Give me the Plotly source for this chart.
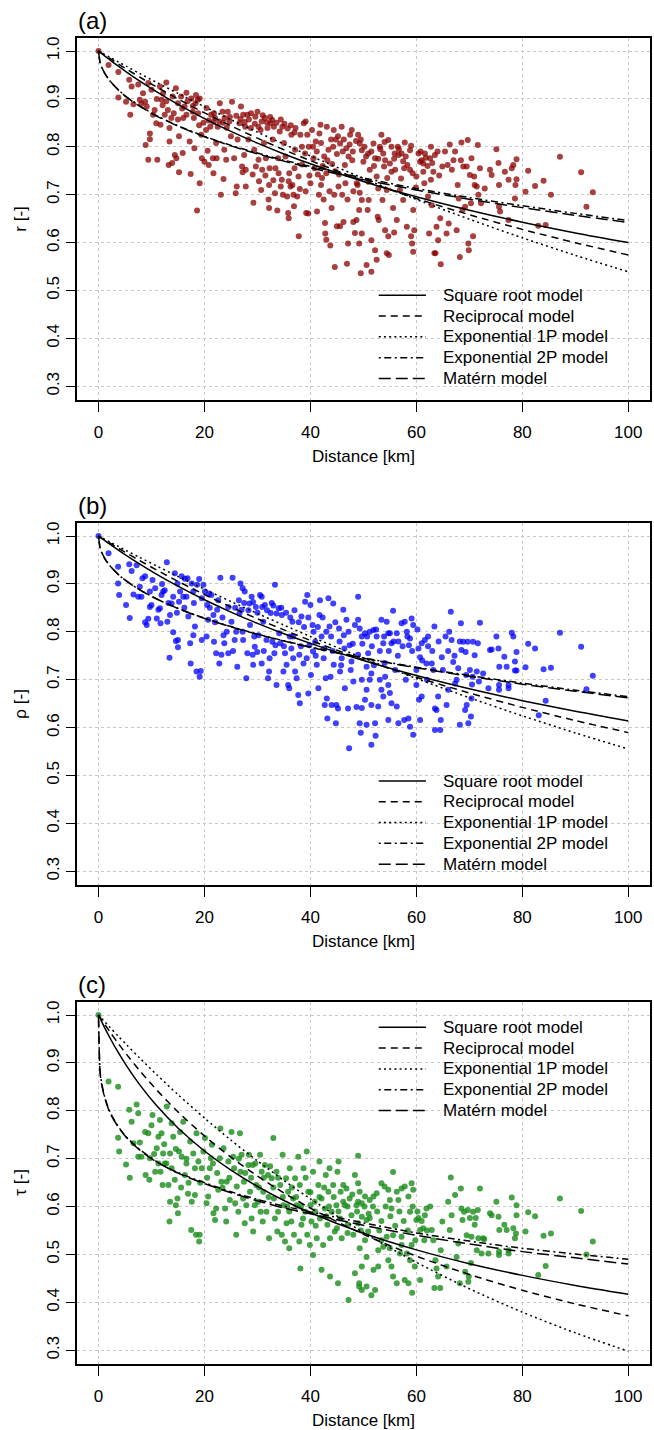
import plotly.graph_objects as go

# ---------------- observed correlation pairs (distance km, coefficient) ----------------
obs_a = [(0,1.0),(1.9,0.971),(3.75,0.956),(3.75,0.903),(5.2,0.894),(5.8,0.94),(6.0,0.867),(6.25,0.926),(6.6,0.889),
(7.5,0.93),(7.8,0.898),(8.1,0.89),(8.4,0.912),(8.8,0.894),(9.1,0.884),(9.4,0.933),(9.7,0.828),(9.7,0.816),(8.9,0.804),
(9.4,0.773),(10,0.919),(10.3,0.867),(10.6,0.877),(10.9,0.849),(11.1,0.773),(11.6,0.926),(11.7,0.846),(11.9,0.898),
(12.1,0.887),(12.2,0.912),(12.5,0.867),(12.8,0.934),(13.1,0.877),(13.4,0.839),(13.4,0.811),(13.25,0.762),(13.75,0.86),
(13.9,0.766),(14.4,0.783),(14.6,0.922),(14.7,0.776),(15,0.891),(15,0.857),(15.2,0.822),(15.2,0.747),(15.6,0.905),
(15.9,0.787),(16.25,0.884),(16.6,0.913),(16.6,0.867),(17.2,0.811),(17.4,0.743),(17.5,0.901),(17.8,0.873),(18.1,0.797),
(18.3,0.891),(18.4,0.908),(18.6,0.667),(18.75,0.898),(19.1,0.724),(19.1,0.901),(19.4,0.825),(19.5,0.776),(20,0.769),
(20.3,0.835),(20.4,0.881),(20.6,0.792),(20.8,0.762),(21.1,0.842),(21.25,0.867),(21.6,0.776),(21.7,0.745),(22.2,0.808),
(22.3,0.776),(22.5,0.842),(22.8,0.853),(22.9,0.891),(23.1,0.7),(23.4,0.873),(23.6,0.733),(23.75,0.794),(24.1,0.773),
(24.4,0.873),(24.7,0.853),(25,0.822),(25.2,0.894),(25.6,0.776),(25.9,0.703),(26.1,0.717),(26.25,0.815),(26.6,0.849),
(26.9,0.884),(27.1,0.759),(27.2,0.747),(27.3,0.867),(27.5,0.783),(27.7,0.842),(27.8,0.717),(27.8,0.752),(28.1,0.867),
(28.3,0.815),(28.4,0.857),(28.75,0.839),(29.1,0.742),(29.25,0.683),(29.4,0.794),(29.6,0.863),(29.7,0.759),(30,0.873),
(30.2,0.773),(30.3,0.728),(30.6,0.835),(30.8,0.853),(30.9,0.752),(31.25,0.808),(31.4,0.86),(31.6,0.776),(31.9,0.839),
(32.1,0.69),(32.2,0.72),(32.2,0.672),(32.3,0.755),(32.5,0.849),(32.8,0.856),(32.9,0.815),(33.3,0.703),(33.4,0.755),
(33.75,0.667),(33.9,0.776),(34.2,0.832),(34.4,0.717),(34.6,0.731),(34.7,0.842),(35,0.808),(35.3,0.78),(35.6,0.696),
(35.8,0.662),(35.9,0.651),(35.9,0.728),(36.25,0.717),(36.4,0.825),(36.6,0.72),(36.9,0.676),(37.1,0.794),(37.2,0.839),
(37.5,0.696),(37.75,0.738),(37.8,0.613),(38.1,0.825),(38.4,0.763),(38.75,0.849),(39.1,0.853),(39.1,0.707),(39.2,0.662),
(39.4,0.825),(39.6,0.661),(39.7,0.8),(40,0.724),(40.3,0.835),(40.6,0.776),(41,0.811),(41.25,0.665),(41.4,0.742),
(41.6,0.7),(41.7,0.828),(41.9,0.846),(42.2,0.735),(42.5,0.69),(42.75,0.641),(42.8,0.619),(43,0.606),(43.1,0.842),
(43.4,0.794),(43.6,0.707),(43.75,0.594),(44,0.672),(44.4,0.835),(44.6,0.549),(44.7,0.749),(44.8,0.815),(45,0.634),
(45.2,0.822),(45.3,0.717),(45.4,0.742),(45.6,0.634),(45.9,0.842),(46.1,0.79),(46.25,0.643),(46.6,0.724),(46.9,0.556),
(47.1,0.598),(47.2,0.78),(47.5,0.825),(47.8,0.835),(48.1,0.643),(48.1,0.707),(48.4,0.62),(48.75,0.724),
(49.0,0.825),(49.3,0.807),(49.7,0.793),(50,0.769),(48.9,0.72),(49.3,0.704),(49.7,0.689),(49.2,0.668),(48.7,0.647),
(49.7,0.619),(49.2,0.598),(50.6,0.553),(49.5,0.536),(51.5,0.539),(50.9,0.786),(51.2,0.752),(50.9,0.727),(51,0.689),
(50.8,0.668),(51.5,0.605),(52.2,0.584),(51.9,0.807),(52.2,0.776),(52.5,0.738),(52.8,0.713),(52.7,0.654),(52.9,0.647),
(52.5,0.564),(53.4,0.825),(53.1,0.8),(53.75,0.786),(53.9,0.759),(54.1,0.772),(54.4,0.71),(53.6,0.689),(54.1,0.626),
(54.7,0.613),(54.4,0.578),(54.8,0.574),(54.7,0.814),(55.3,0.8),(55.3,0.748),(55.9,0.786),(55.6,0.672),(55.8,0.621),
(56.3,0.647),(56.5,0.8),(56.6,0.783),(57.1,0.734),(56.9,0.71),(57.2,0.786),(57.5,0.689),(57.8,0.809),(58.2,0.633),
(58.3,0.762),(58.8,0.752),(58.8,0.793),(59,0.613),(59.2,0.598),(59.4,0.581),(59.4,0.668),(59.6,0.626),(59.9,0.715),
(60,0.738),(60.4,0.786),(60.7,0.769),(61,0.772),(61.3,0.765),(61.3,0.748),(61.5,0.724),(61.6,0.786),(62.2,0.696),
(62.4,0.619),(62.6,0.776),(62.75,0.8),(62.75,0.731),(62.9,0.678),(63.2,0.748),(63.4,0.578),(63.6,0.578),(63.5,0.783),
(63.8,0.633),(64.1,0.605),(64.5,0.651),(64.6,0.555),(64.9,0.759),(65.4,0.79),(65.7,0.619),(65.9,0.762),(66.1,0.64),
(66.3,0.805),(66.7,0.752),(67,0.772),(67.3,0.79),(67.6,0.626),(67.8,0.72),(68,0.692),(68.2,0.57),(68.4,0.772),
(68.5,0.809),(68.7,0.668),(68.85,0.759),(69.2,0.675),(69.5,0.759),(69.7,0.814),(69.8,0.598),(69.9,0.584),(70.1,0.741),
(70.3,0.682),(70.4,0.776),(70.7,0.613),(70.9,0.738),(71,0.72),(71.4,0.717),(71.6,0.804),(71.7,0.7),(72,0.755),
(72.2,0.682),(72.9,0.713),(73.9,0.752),(74.2,0.741),(75.1,0.795),(75.5,0.766),(75.6,0.675),(75.8,0.665),(75.6,0.72),
(76.7,0.748),(77.4,0.731),(77.4,0.647),(78,0.755),(78.3,0.762),(78.6,0.692),(78.7,0.72),(78.9,0.774),(78.9,0.732),
(80.6,0.706),(81.1,0.75),(82.4,0.718),(83,0.635),(84,0.729),(84.4,0.637),(85.4,0.7),(87.1,0.779),(91.1,0.747),
(92.1,0.675),(93.3,0.705),
(26,0.865),(26.8,0.858),(27.6,0.852),(28.8,0.87),(29.5,0.848),(30.2,0.842),(31,0.866),(31.8,0.851),(32.4,0.862),
(33.1,0.842),(33.6,0.85),(34.4,0.857),(35.1,0.848),(35.7,0.838),(36.3,0.845),(37,0.83),(24.8,0.862),(23.5,0.85),
(22,0.86),(21.7,0.852),(38.4,0.8),(39,0.786),(40.5,0.8),(41.2,0.79),(42,0.808),(42.6,0.78),(43.2,0.772),(43.9,0.815),
(44.3,0.8),(45,0.785),(45.6,0.807),(46.3,0.815),(46.8,0.797),(47.4,0.805),(48,0.79),(48.6,0.812),(42.3,0.76),
(44.1,0.764),(46.5,0.762),(47.9,0.772),(49.5,0.815),(50.2,0.8),(50.5,0.78),(51.5,0.79),(52,0.76),(52.8,0.775),
(53.2,0.795),(54,0.81),(55,0.765),(55.8,0.775),(56.7,0.795),(57.5,0.77),(58,0.78),(59,0.802),(60.8,0.79),(61.8,0.777),
(62.1,0.76),(63,0.766),(64,0.79),(64.3,0.74),(59.3,0.745),(57.7,0.755),(56,0.752),(54.5,0.735),(30.7,0.71),(31.5,0.74),
(33,0.73),(34,0.745),(36,0.745),(37,0.755),(38,0.712),(39.8,0.74),(40.8,0.755),(42,0.72),(43,0.745),(44.5,0.7),
(46,0.7),(47,0.69),(34.8,0.7),(36.8,0.7),(11,0.9),(12.8,0.895),(14,0.905),(15.8,0.88),(16.8,0.895),(17.8,0.885),
(18.8,0.87),(19.8,0.85),(20.8,0.855),(21.8,0.87),(23.8,0.86),(24.2,0.84),(16,0.86),(14.2,0.87),(18,0.86),(19,0.845)]

obs_b = [(0,1.0),(1.9,0.964),(3.7,0.936),(3.7,0.901),(3.9,0.877),(5.2,0.856),(5.9,0.829),(5.8,0.941),(6.25,0.927),
(6.6,0.878),(7.2,0.939),(7.5,0.873),(7.8,0.894),(8.1,0.873),(8.3,0.912),(8.8,0.916),(8.8,0.82),(9.1,0.814),(9.4,0.827),
(9.7,0.852),(9.7,0.884),(10,0.856),(10.2,0.908),(10.7,0.891),(11,0.828),(11.3,0.846),(11.6,0.849),(11.7,0.818),
(11.9,0.877),(12.2,0.884),(12.5,0.887),(12.9,0.945),(13,0.821),(13.4,0.746),(13.5,0.835),(13.8,0.859),(14.1,0.873),
(14.1,0.799),(14.4,0.922),(14.6,0.781),(14.9,0.901),(15,0.783),(15.2,0.863),(15,0.768),(15.4,0.884),(15.7,0.916),
(16,0.873),(16.3,0.911),(16.6,0.873),(16.8,0.912),(16.95,0.832),(17.3,0.776),(17.4,0.734),(17.6,0.901),(17.9,0.793),
(17.9,0.884),(18.2,0.811),(18.5,0.717),(18.6,0.898),(19,0.91),(19.1,0.706),(19.3,0.718),(19.5,0.783),(19.8,0.898),
(20.1,0.884),(20.4,0.79),(20.5,0.856),(20.7,0.825),(20.9,0.88),(21.3,0.877),(21.7,0.835),(21.8,0.779),(22.2,0.755),
(22.4,0.846),(22.6,0.866),(22.8,0.734),(23,0.913),(23.2,0.752),(23.6,0.793),(23.75,0.776),(24.2,0.8),(24.5,0.852),
(24.5,0.755),(25.1,0.821),(25.3,0.913),(25.7,0.783),(26,0.8),(26.2,0.727),(26.5,0.866),(26.8,0.901),(27,0.846),
(27.2,0.891),(27.3,0.783),(27.6,0.884),(27.9,0.703),(28.1,0.755),(28.5,0.859),(28.6,0.814),(28.9,0.873),(29.1,0.752),
(29.2,0.731),(29.5,0.769),(29.7,0.852),(29.96,0.758),(30.2,0.793),(30.5,0.877),(30.8,0.873),(30.8,0.734),(31.1,0.821),
(31.4,0.856),(31.7,0.783),(32,0.703),(32.2,0.717),(32.3,0.745),(32.5,0.839),(32.8,0.779),(33,0.855),(33.3,0.898),
(33.4,0.772),(33.6,0.689),(34,0.849),(34.1,0.797),(34.3,0.776),(34.6,0.835),(34.9,0.717),(35.2,0.755),(35.5,0.731),
(35.8,0.689),(36,0.682),(36.1,0.79),(36.4,0.765),(36.6,0.821),(36.75,0.745),(37.1,0.717),(37.4,0.703),(37.7,0.668),
(37.9,0.752),(38,0.651),(38.3,0.832),(38.7,0.734),(39,0.863),(39.3,0.745),(39.4,0.877),(39.6,0.671),(39.8,0.772),
(40,0.856),(40.1,0.71),(40.4,0.814),(40.5,0.759),(40.9,0.779),(41.2,0.731),(41.5,0.682),(41.7,0.835),(41.8,0.866),
(42.1,0.79),(42.5,0.745),(42.7,0.647),(42.9,0.703),(43.1,0.661),(43.2,0.619),(43.4,0.87),(43.6,0.811),(43.8,0.706),
(44,0.647),(44.3,0.859),(44.4,0.731),(44.8,0.609),(44.9,0.647),(45.2,0.64),(45.4,0.807),(45.6,0.717),(45.9,0.745),
(46.2,0.846),(46.3,0.793),(46.5,0.682),(46.8,0.825),(47.1,0.64),(47.3,0.557),(47.4,0.772),(47.75,0.738),(48.1,0.696),
(48.4,0.814),(48.7,0.643),(49,0.873),(49,0.752),
(55.6,0.844),(66.5,0.842),(49,0.825),(49.3,0.807),(49.7,0.79),(50.3,0.797),(51.2,0.8),(51.9,0.804),(52.5,0.79),
(53.4,0.825),(54.4,0.821),(54.7,0.797),(53.75,0.776),(55,0.797),(55.3,0.776),(56.3,0.797),(56.6,0.78),(57.2,0.818),
(57.8,0.821),(58.2,0.8),(58.8,0.786),(59.1,0.828),(59.4,0.814),(58.6,0.772),(50.9,0.755),(50.6,0.727),(51.5,0.713),
(51.2,0.7),(49.7,0.7),(50.6,0.679),(50.3,0.658),(49.7,0.641),(49.3,0.609),(49.5,0.589),(51.5,0.564),(52.3,0.583),
(50.6,0.606),(52.2,0.609),(51.5,0.647),(52.8,0.644),(53.1,0.7),(53.4,0.679),(53.75,0.665),(54.1,0.706),(54.7,0.689),
(55,0.672),(55.3,0.651),(54.7,0.616),(56.3,0.644),(56.6,0.609),(57.7,0.616),(58.5,0.619),(58.8,0.602),(59.4,0.585),
(60.7,0.616),(60.5,0.658),(61,0.665),(60,0.689),(60.4,0.765),(60.7,0.747),(61,0.776),(61.6,0.783),(61.9,0.734),
(62.2,0.79),(62.9,0.734),(63.2,0.72),(63.4,0.811),(63.5,0.64),(63.8,0.637),(63.5,0.595),(64.5,0.595),(64.6,0.616),
(64.1,0.665),(64.8,0.747),(65.5,0.79),(65.7,0.647),(66,0.679),(66.2,0.8),(66.65,0.783),(66.95,0.737),(67.3,0.692),
(67.6,0.7),(67.9,0.724),(68.2,0.606),(68.4,0.818),(68.5,0.762),(68.85,0.779),(69.2,0.637),(69.3,0.758),(69.5,0.647),
(69.7,0.779),(69.8,0.609),(70.1,0.72),(70.3,0.623),(70.4,0.661),(70.6,0.706),(70.7,0.779),(71,0.751),(71.4,0.717),
(71.6,0.776),(71.8,0.696),(72,0.819),(72.6,0.713),(73.6,0.682),(73.9,0.762),(74.2,0.763),(75.1,0.79),(75.5,0.765),
(75.65,0.727),(75.6,0.689),(75.6,0.679),(76.6,0.748),(77.05,0.727),(77.4,0.682),(77.4,0.689),(78,0.798),(78.3,0.79),
(78.6,0.738),(78.6,0.719),(78.9,0.758),(78.9,0.719),(80.6,0.726),(81.1,0.775),(82.4,0.765),(83.1,0.626),(84,0.722),
(84.4,0.656),(85.4,0.725),(87.1,0.798),(91.1,0.769),(92.1,0.68),(93.3,0.708),
(25.8,0.85),(26.6,0.838),(27.5,0.86),(28.3,0.845),(29.2,0.862),(30,0.84),(30.9,0.852),(31.8,0.845),(32.7,0.86),
(33.6,0.838),(34.5,0.85),(35.4,0.84),(36.2,0.83),(37,0.845),(37.8,0.82),(38.8,0.81),(39.6,0.83),(40.6,0.8),(41.4,0.81),
(42.3,0.83),(43,0.8),(43.9,0.79),(44.7,0.82),(45.5,0.78),(46.4,0.765),(47.2,0.8),(48,0.775),(41,0.75),(42.6,0.765),
(44.2,0.76),(45.8,0.73),(47.6,0.72),(38.2,0.77),(36.7,0.79),(35,0.77),(33.2,0.755),(31.2,0.76),(29.4,0.79),(27.2,0.8),
(25.4,0.76),(23.4,0.83),(22,0.82),(21,0.85),(19.5,0.87),(18,0.86),(16.2,0.85),(14.8,0.84),(13.2,0.86),(12,0.9),
(49.8,0.775),(50.7,0.79),(51.6,0.77),(52.4,0.805),(53.1,0.76),(53.9,0.79),(54.8,0.76),(55.7,0.78),(56.5,0.75),
(57.4,0.77),(58.3,0.79),(59.2,0.76),(60.2,0.805),(61.1,0.74),(62.2,0.77),(63,0.76),(64.2,0.78),(65,0.72),(66,0.76),
(67.2,0.75),(68.2,0.78),(69.4,0.71),(70.5,0.69),(56,0.72),(58,0.70),(60,0.72),(62,0.70),(54,0.735),(52,0.73)]

obs_c = [(0,1.0),(1.9,0.861),(3.7,0.85),(3.7,0.744),(3.9,0.715),(5.2,0.688),(5.8,0.802),(5.9,0.66),(6.25,0.777),
(6.6,0.732),(7.2,0.813),(7.5,0.795),(7.5,0.704),(7.8,0.734),(8.1,0.704),(8.8,0.756),(8.9,0.666),(9.4,0.753),(9.6,0.656),
(9.7,0.701),(10,0.77),(10.2,0.791),(10.7,0.673),(11,0.722),(11.3,0.69),(11.3,0.746),(11.6,0.781),(11.7,0.673),
(11.9,0.753),(12.1,0.645),(12.2,0.711),(12.5,0.69),(12.9,0.809),(13.2,0.645),(13.5,0.711),(13.5,0.61),(13.4,0.569),
(13.8,0.774),(14.1,0.746),(14.4,0.656),(14.6,0.603),(14.9,0.617),(15,0.586),(15.2,0.715),(15.4,0.756),(15.7,0.704),
(16,0.777),(16.3,0.666),(16.6,0.69),(16.9,0.627),(17.3,0.736),(17.5,0.551),(17.6,0.61),(17.9,0.711),(18.2,0.624),
(18.4,0.541),(18.5,0.753),(18.85,0.694),(19,0.527),(19.1,0.541),(19.5,0.68),(19.8,0.715),(20.1,0.743),(20.4,0.607),
(20.7,0.621),(21,0.68),(21.2,0.701),(21.4,0.729),(21.7,0.586),(22,0.572),(22.2,0.596),(22.6,0.635),(22.9,0.701),
(23,0.763),(23.2,0.652),(23.6,0.722),(23.9,0.596),(24.1,0.569),(24.2,0.652),(24.5,0.694),(24.8,0.614),(25.1,0.756),
(25.4,0.704),(25.8,0.607),(26,0.541),(26.1,0.642),(26.4,0.589),(26.7,0.753),(26.8,0.673),(27,0.708),(27.3,0.617),
(27.45,0.652),(27.6,0.565),(27.9,0.603),(28.3,0.687),(28.4,0.708),(28.6,0.631),(28.9,0.575),(29.1,0.687),(29.2,0.548),
(29.5,0.603),(29.8,0.645),(30.1,0.61),(30.5,0.708),(30.6,0.589),(30.8,0.673),(31,0.569),(31.1,0.631),(31.4,0.687),
(31.7,0.589),(32,0.666),(32.2,0.534),(32.4,0.684),(32.7,0.659),(33,0.743),(33.1,0.617),(33.3,0.575),(33.6,0.673),
(33.75,0.548),(33.9,0.589),(34.3,0.645),(34.6,0.541),(34.75,0.708),(34.9,0.603),(35.2,0.527),(35.4,0.659),(35.5,0.565),
(35.8,0.631),(36,0.513),(36.1,0.68),(36.4,0.569),(36.75,0.617),(36.9,0.541),(37.1,0.659),(37.4,0.603),(37.7,0.704),
(37.9,0.527),(38,0.645),(38.3,0.562),(38.7,0.68),(39,0.589),(39.3,0.715),(39.4,0.541),(39.6,0.631),(39.9,0.52),
(40.0,0.603),(40.2,0.569),(40.5,0.673),(40.8,0.61),(41.2,0.534),(41.5,0.645),(41.7,0.694),(41.8,0.575),(42.1,0.617),
(42.4,0.52),(42.7,0.596),(42.9,0.666),(43.2,0.562),(43.4,0.631),(43.6,0.68),(43.7,0.534),(44,0.589),(44.3,0.645),
(44.6,0.548),(44.9,0.603),(45.1,0.673),(45.3,0.694),(45.6,0.575),(45.7,0.631),(45.9,0.534),(46.2,0.645),(46.5,0.603),
(46.8,0.638),(47.1,0.562),(47.4,0.617),(47.75,0.582),(48.1,0.541),(48.4,0.666),(48.7,0.603),(49,0.565),
(38.1,0.471),(40.5,0.499),(42.1,0.468),(43.7,0.454),(45.2,0.44),(47.2,0.405),(48.4,0.461),(49.2,0.433),
(49,0.706),(55.6,0.672),(66.5,0.661),(49,0.649),(49.3,0.631),(49,0.61),(49.7,0.607),(50.3,0.621),(51.2,0.614),
(51.9,0.621),(52.5,0.628),(53.4,0.649),(54,0.642),(54.7,0.635),(55,0.614),(55.3,0.596),(56.3,0.631),(56.6,0.614),
(57.2,0.638),(57.8,0.642),(58.5,0.621),(59.1,0.649),(59.4,0.635),(58.8,0.589),(49.7,0.579),(50.6,0.572),(51.2,0.576),
(50.9,0.548),(50.3,0.53),(49.3,0.513),(50.6,0.495),(49.7,0.475),(49.2,0.44),(49.7,0.426),(50.6,0.433),(51.5,0.415),
(52.2,0.426),(51.9,0.468),(52.8,0.475),(52.8,0.509),(53.4,0.53),(53.75,0.516),(54.4,0.537),(54.7,0.488),(55,0.513),
(55.3,0.475),(55.6,0.454),(56.3,0.44),(56.9,0.502),(57.2,0.537),(57.8,0.447),(58.2,0.502),(58.5,0.44),(58.8,0.488),
(59.1,0.52),(59.2,0.42),(59.7,0.475),(60,0.572),(60.4,0.576),(60.7,0.447),(60.7,0.551),(61.3,0.555),(61.6,0.582),
(61.9,0.596),(62.6,0.6),(62.9,0.551),(63.2,0.53),(63.4,0.43),(63.6,0.488),(63.8,0.471),(64.1,0.454),(64.5,0.43),
(64.6,0.509),(64.9,0.569),(65.7,0.475),(66,0.61),(66.3,0.551),(66.65,0.582),(67.3,0.624),(67.6,0.495),(67.9,0.523),
(68.2,0.44),(68.4,0.638),(68.5,0.596),(68.7,0.572),(69,0.589),(69.2,0.464),(69.5,0.54),(69.7,0.593),(69.8,0.443),
(69.9,0.454),(70.1,0.576),(70.3,0.482),(70.4,0.537),(70.7,0.589),(71,0.562),(71.2,0.576),(71.4,0.509),(71.6,0.593),
(71.7,0.534),(72,0.638),(72.3,0.502),(72.6,0.534),(72.8,0.532),(73.6,0.502),(73.9,0.586),(74.2,0.582),(75.1,0.61),
(75.5,0.579),(75.6,0.506),(75.6,0.499),(75.65,0.551),(76.6,0.562),(77.05,0.551),(77.4,0.502),(77.4,0.509),(78,0.619),
(78.3,0.555),(78.6,0.534),(78.8,0.544),(78.9,0.582),(78.9,0.603),(80.6,0.548),(81.1,0.588),(82.4,0.58),(83,0.457),
(84,0.539),(84.4,0.476),(85.4,0.544),(87.1,0.617),(91.1,0.591),(92.1,0.5),(93.3,0.527),
(30.3,0.64),(31.2,0.66),(32.1,0.62),(33,0.64),(33.9,0.66),(34.8,0.62),(35.6,0.6),(36.5,0.64),(37.3,0.62),(38.2,0.6),
(39.1,0.66),(40,0.63),(40.9,0.59),(41.7,0.62),(42.6,0.64),(43.5,0.6),(44.4,0.62),(45.3,0.59),(46.2,0.61),(47,0.6),
(47.9,0.625),(48.8,0.59),(36,0.59),(38.6,0.575),(41,0.56),(43,0.58),(45,0.555),(47,0.545),(49.5,0.55),
(10.5,0.71),(12.8,0.69),(14.6,0.72),(16.6,0.7),(18.2,0.68),(20.5,0.66),(21.6,0.69),(22.4,0.67),(23.4,0.64),(24.7,0.66),
(25.6,0.68),(26.5,0.7),(27.7,0.67),(28.8,0.66),(29.6,0.69),(19.2,0.65),(17,0.65),(15.6,0.64),(13.8,0.68),(12.4,0.73),
(50.2,0.6),(51,0.585),(51.8,0.6),(52.6,0.59),(53.4,0.57),(54.2,0.6),(55.1,0.58),(56,0.56),(56.8,0.59),(57.6,0.57),
(58.4,0.55),(59.3,0.6),(60.2,0.59),(61,0.57),(62,0.55),(53,0.55),(55.6,0.54),(57.2,0.52),(59.8,0.53),(61.5,0.53)]

# ---------------- fitted model curves ----------------
curve_d = [0, 0.3, 0.6, 1.2, 2.2, 3.75, 5.3, 7.8, 11, 15, 20, 25, 30, 35, 40, 50, 60, 70, 80, 90, 100]

sqrt_a  = [1, 0.9973, 0.9947, 0.9895, 0.9810, 0.9683, 0.9560, 0.9371, 0.9146, 0.8885, 0.8589, 0.8321, 0.8076, 0.7851, 0.7645, 0.7276, 0.6956, 0.6675, 0.6425, 0.6202, 0.6000]
recip_a = [1, 0.9978, 0.9956, 0.9912, 0.9839, 0.9729, 0.9622, 0.9453, 0.9246, 0.8999, 0.8708, 0.8436, 0.8180, 0.7939, 0.7712, 0.7294, 0.6920, 0.6582, 0.6276, 0.5997, 0.5741]
exp1_a  = [1, 0.9981, 0.9963, 0.9926, 0.9865, 0.9771, 0.9678, 0.9529, 0.9343, 0.9115, 0.8837, 0.8568, 0.8307, 0.8055, 0.7810, 0.7342, 0.6902, 0.6489, 0.6100, 0.5734, 0.5390]
exp2_a  = [1, 0.975, 0.966, 0.953, 0.937, 0.919, 0.904, 0.885, 0.865, 0.844, 0.822, 0.803, 0.787, 0.772, 0.759, 0.735, 0.713, 0.694, 0.677, 0.661, 0.646]
matern_a= [1, 0.9765, 0.9668, 0.9532, 0.9371, 0.9185, 0.9038, 0.8845, 0.8642, 0.8432, 0.8210, 0.8020, 0.7852, 0.7701, 0.7562, 0.7315, 0.7099, 0.6905, 0.6730, 0.6570, 0.6421]

sqrt_b  = [1, 0.9975, 0.9951, 0.9902, 0.9823, 0.9704, 0.9589, 0.9412, 0.9199, 0.8952, 0.8669, 0.8412, 0.8176, 0.7959, 0.7759, 0.7399, 0.7086, 0.6809, 0.6562, 0.6340, 0.6140]
recip_b = [1, 0.9979, 0.9958, 0.9917, 0.9849, 0.9746, 0.9644, 0.9485, 0.9289, 0.9054, 0.8778, 0.8517, 0.8272, 0.8040, 0.7821, 0.7417, 0.7053, 0.6723, 0.6422, 0.6147, 0.5895]
exp1_b  = [1, 0.9982, 0.9965, 0.9930, 0.9871, 0.9782, 0.9693, 0.9552, 0.9373, 0.9155, 0.8890, 0.8632, 0.8382, 0.8139, 0.7903, 0.7452, 0.7026, 0.6625, 0.6246, 0.5889, 0.5553]
exp2_b  = [1, 0.9745, 0.9655, 0.9525, 0.9372, 0.9196, 0.9058, 0.8876, 0.8686, 0.8490, 0.8284, 0.8109, 0.7953, 0.7813, 0.7684, 0.7455, 0.7262, 0.7088, 0.6928, 0.6781, 0.6645]
matern_b= [1, 0.9758, 0.9663, 0.9530, 0.9375, 0.9197, 0.9058, 0.8875, 0.8684, 0.8487, 0.8280, 0.8104, 0.7947, 0.7806, 0.7677, 0.7449, 0.7249, 0.7070, 0.6907, 0.6758, 0.6620]

sqrt_c  = [1, 0.9930, 0.9861, 0.9727, 0.9515, 0.9213, 0.8938, 0.8542, 0.8104, 0.7641, 0.7161, 0.6761, 0.6421, 0.6128, 0.5872, 0.5443, 0.5096, 0.4808, 0.4564, 0.4354, 0.4170]
recip_c = [1, 0.9950, 0.9900, 0.9801, 0.9642, 0.9404, 0.9178, 0.8836, 0.8433, 0.7978, 0.7475, 0.7031, 0.6637, 0.6285, 0.5968, 0.5421, 0.4966, 0.4582, 0.4253, 0.3968, 0.3719]
exp1_c  = [1, 0.9964, 0.9928, 0.9856, 0.9737, 0.9556, 0.9378, 0.9099, 0.8753, 0.8339, 0.7850, 0.7388, 0.6954, 0.6546, 0.6162, 0.5459, 0.4837, 0.4285, 0.3796, 0.3364, 0.2980]
exp2_c  = [1, 0.883, 0.858, 0.828, 0.797, 0.767, 0.745, 0.719, 0.694, 0.671, 0.650, 0.631, 0.615, 0.601, 0.589, 0.566, 0.545, 0.528, 0.513, 0.501, 0.490]
matern_c= [1, 0.880, 0.855, 0.826, 0.795, 0.766, 0.744, 0.718, 0.693, 0.670, 0.648, 0.629, 0.612, 0.597, 0.585, 0.561, 0.540, 0.522, 0.506, 0.493, 0.480]

model_names = ["Square root model", "Reciprocal model", "Exponential 1P model", "Exponential 2P model", "Matérn model"]
panel_labels = ["(a)", "(b)", "(c)"]
y_titles = ["r [-]", "\u03c1 [-]", "\u03c4 [-]"]
x_title = "Distance [km]"
x_ticks = [0, 20, 40, 60, 80, 100]
y_ticks = [0.3, 0.4, 0.5, 0.6, 0.7, 0.8, 0.9, 1.0]
y_ticktext = ["0.3", "0.4", "0.5", "0.6", "0.7", "0.8", "0.9", "1.0"]

# ---------------- styling ----------------
FONT = "Liberation Sans, Arial, Helvetica, sans-serif"
W, H = 654, 1430
dashes = ["solid", "7px,5px", "2px,3.2px", "2px,3.5px,7px,3.5px", "12px,5px"]
point_colors = ["rgba(139,0,0,0.75)", "rgba(0,0,255,0.75)", "rgba(25,140,25,0.8)"]
x_dom = [77.3 / W, 649.5 / W]
y_doms = [[1 - 399.7 / H, 1 - 37.6 / H], [1 - 884.7 / H, 1 - 522.6 / H], [1 - 1363.7 / H, 1 - 1001.6 / H]]
legend_top = [0.490, 0.4885, 0.9743]   # data-y of first legend row per panel
legend_step = 0.0434

panels = [
    (obs_a, [sqrt_a, recip_a, exp1_a, exp2_a, matern_a]),
    (obs_b, [sqrt_b, recip_b, exp1_b, exp2_b, matern_b]),
    (obs_c, [sqrt_c, recip_c, exp1_c, exp2_c, matern_c]),
]

fig = go.Figure()
annotations = []
shapes = []
for i, (obs, models) in enumerate(panels):
    sfx = "" if i == 0 else str(i + 1)
    xa, ya = "x" + sfx, "y" + sfx
    dist = [p[0] for p in obs]
    val = [p[1] for p in obs]
    fig.add_trace(go.Scatter(x=dist, y=val, mode="markers", xaxis=xa, yaxis=ya, showlegend=False,
                             marker=dict(size=6, color=point_colors[i], line=dict(width=0))))
    for m, yvals in enumerate(models):
        fig.add_trace(go.Scatter(x=curve_d, y=yvals, mode="lines", xaxis=xa, yaxis=ya, showlegend=False,
                                 line=dict(color="black", width=1.5, dash=dashes[m], shape="spline", smoothing=0.8)))
    # legend drawn manually (R style, no box)
    for m, name in enumerate(model_names):
        yy = legend_top[i] - m * legend_step
        shapes.append(dict(type="line", xref=xa, yref=ya, x0=52.9, x1=61.8, y0=yy, y1=yy,
                           line=dict(color="black", width=1.5, dash=dashes[m])))
        annotations.append(dict(xref=xa, yref=ya, x=64.6, y=yy, text=name, showarrow=False,
                                xanchor="left", yanchor="middle", font=dict(family=FONT, size=17, color="black")))
    top_px = (1 - y_doms[i][1]) * H
    bot_px = (1 - y_doms[i][0]) * H
    annotations.append(dict(xref="paper", yref="paper", x=75.5 / W, y=1 - (top_px - 17) / H, text=panel_labels[i],
                            showarrow=False, xanchor="left", yanchor="middle", font=dict(family=FONT, size=24, color="black")))
    annotations.append(dict(xref="paper", yref="paper", x=(x_dom[0] + x_dom[1]) / 2, y=1 - (bot_px + 57) / H, text=x_title,
                            showarrow=False, xanchor="center", yanchor="middle", font=dict(family=FONT, size=17, color="black")))
    annotations.append(dict(xref="paper", yref="paper", x=21 / W, y=(y_doms[i][0] + y_doms[i][1]) / 2, text=y_titles[i],
                            showarrow=False, xanchor="center", yanchor="middle", textangle=-90,
                            font=dict(family=FONT, size=17, color="black")))

    axis_common = dict(showline=True, linecolor="black", linewidth=1.6, mirror=True, ticks="outside", ticklen=10,
                       tickwidth=1.2, tickcolor="black", showgrid=True, gridcolor="#c8c8c8", griddash="dot",
                       gridwidth=1, zeroline=False, tickfont=dict(family=FONT, size=17, color="black"))
    fig.update_layout(**{
        ("xaxis" + sfx): dict(axis_common, domain=x_dom, range=[-4, 104], tickmode="array", tickvals=x_ticks,
                              anchor=ya, ticklabelstandoff=6),
        ("yaxis" + sfx): dict(axis_common, domain=y_doms[i], range=[0.272, 1.028], tickmode="array",
                              tickvals=y_ticks, ticktext=y_ticktext, tickangle=-90, anchor=xa),
    })

fig.update_layout(width=W, height=H, margin=dict(l=0, r=0, t=0, b=0), paper_bgcolor="white", plot_bgcolor="white",
                  showlegend=False, annotations=annotations, shapes=shapes, font=dict(family=FONT, color="black"))
fig.write_html("out.html")
